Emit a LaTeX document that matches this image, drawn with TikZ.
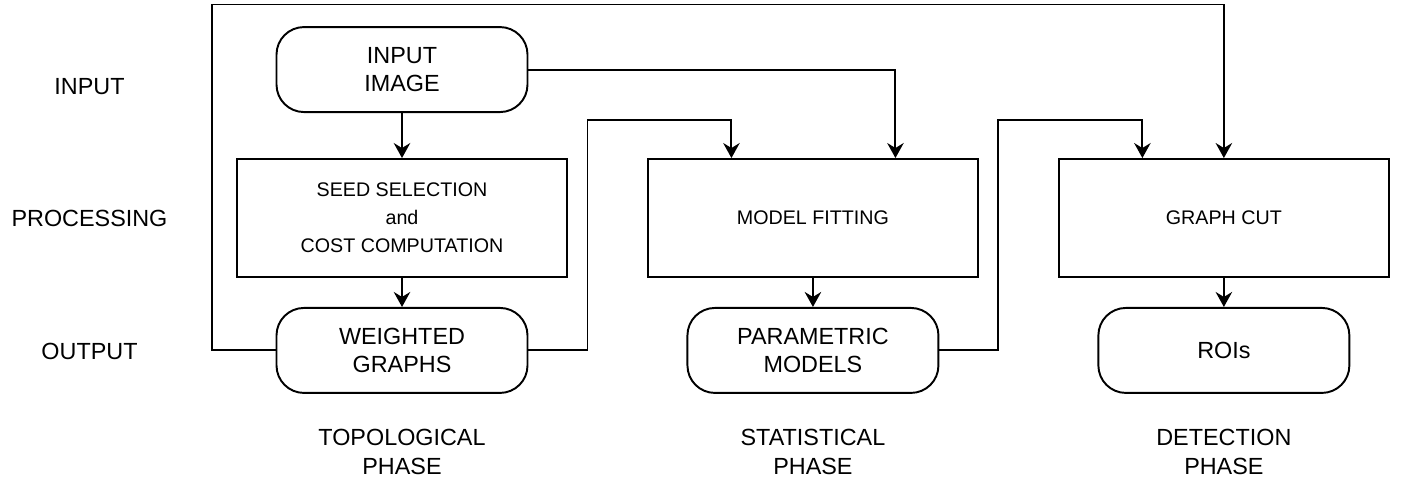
\documentclass[tikz,border=0pt]{standalone}
\usepackage{fontspec}
\setmainfont{Liberation Sans}
\usepackage{tikz}
\usetikzlibrary{positioning, arrows.meta}
\tikzset{
  proc box/.style={rectangle, draw, line width=1.1pt, minimum width=6.6cm, minimum height=2.36cm,
    align=center, font=\fontsize{11.2}{15.9}\selectfont},
  io box/.style={rectangle, draw, line width=1.1pt, rounded corners=0.55cm, minimum width=5.02cm,
    minimum height=1.7cm, align=center, font=\fontsize{13.3}{15.9}\selectfont},
  row label/.style={font=\fontsize{13.3}{15.9}\selectfont},
  phase label/.style={align=center, font=\fontsize{13.3}{16.5}\selectfont},
  flow/.style={line width=1.1pt, -{Stealth[length=0.3cm, width=0.33cm, inset=0.1cm]}}
}

\begin{document}
\begin{tikzpicture}
            \useasboundingbox (0,0) rectangle (28.04,9.64);

            % processing row
            \node[proc box] (seed) at (8.04,5.28) {SEED SELECTION\\and\\COST COMPUTATION};
            \node[proc box] (fit) [right = 1.58cm of seed] {MODEL FITTING};
            \node[proc box] (cut) [right = 1.58cm of fit] {GRAPH CUT};

            % input and outputs
            \node[io box] (img) [above = 0.9cm of seed] {INPUT\\IMAGE};
            \node[io box] (wg) [below = 0.58cm of seed] {WEIGHTED\\GRAPHS};
            \node[io box] (pm) [below = 0.58cm of fit] {PARAMETRIC\\MODELS};
            \node[io box] (roi) [below = 0.58cm of cut] {ROIs};

            % row and column labels
            \node[row label] (lin) at (1.79,7.9) {INPUT};
            \node[row label] (lproc) at (1.79,5.28) {PROCESSING};
            \node[row label] (lout) at (1.79,2.62) {OUTPUT};
            \coordinate (base) at (0,0.61);
            \node[phase label] (topo) at (wg |- base) {TOPOLOGICAL\\PHASE};
            \node[phase label] (stat) at (pm |- base) {STATISTICAL\\PHASE};
            \node[phase label] (det) at (roi |- base) {DETECTION\\PHASE};

            % bend points
            \coordinate (top) at (4.24,9.55);
            \coordinate (hop1) at (11.75,7.24);
            \coordinate (hop2) at (19.96,7.24);

            \draw[flow] (img) -- (seed);
            \draw[flow] (seed) -- (wg);
            \draw[flow] (fit) -- (pm);
            \draw[flow] (cut) -- (roi);
            \draw[flow] (img.east) -| ([xshift=1.65cm]fit.north);
            \draw[flow] (wg.east) -| (hop1) -| ([xshift=-1.63cm]fit.north);
            \draw[flow] (pm.east) -| (hop2) -| ([xshift=-1.63cm]cut.north);
            \draw[flow] (wg.west) -| (top) -| (cut.north);
        \end{tikzpicture}
\end{document}
